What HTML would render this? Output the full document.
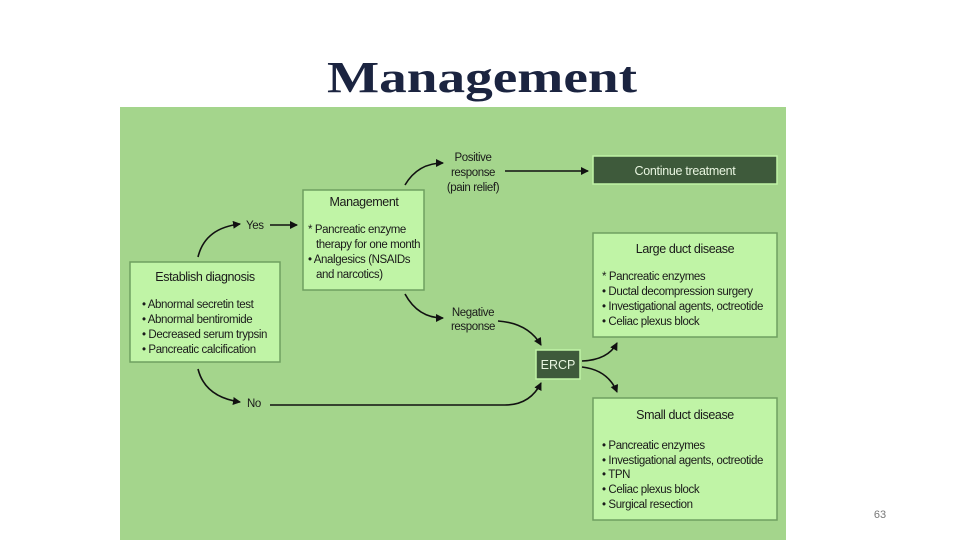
<!DOCTYPE html>
<html><head><meta charset="utf-8"><style>
body{margin:0;background:#fff;width:960px;height:540px;overflow:hidden;font-family:"Liberation Sans",sans-serif}
</style></head><body>
<svg width="960" height="540" xmlns="http://www.w3.org/2000/svg" font-family="Liberation Sans, sans-serif">
<defs><marker id="a" markerWidth="8" markerHeight="8" refX="7" refY="4" orient="auto" markerUnits="userSpaceOnUse"><path d="M0,0 L8,4 L0,8 z" fill="#111"/></marker></defs>
<text x="327" y="92" textLength="310" lengthAdjust="spacingAndGlyphs" font-family="Liberation Serif, serif" font-weight="bold" font-size="44" fill="#1b2440">Management</text>
<rect x="120" y="107" width="666" height="433" fill="#a4d58c"/>
<g stroke="#6fa060" stroke-width="1.5" fill="#c0f4a6">
<rect x="130" y="262" width="150" height="100"/>
<rect x="303" y="190" width="121" height="100"/>
<rect x="593" y="233" width="184" height="104"/>
<rect x="593" y="398" width="184" height="122"/>
</g>
<g fill="#3e5a3b" stroke="#c0f4a6" stroke-width="1.5">
<rect x="593" y="156" width="184" height="28"/>
<rect x="536" y="350" width="44" height="29"/>
</g>
<g font-size="11.5" fill="#1a1a1a" letter-spacing="-0.4">
<text x="205" y="281" text-anchor="middle" font-size="12.5">Establish diagnosis</text>
<text x="142" y="308">•  Abnormal secretin test</text>
<text x="142" y="323">•  Abnormal bentiromide</text>
<text x="142" y="338">•  Decreased serum trypsin</text>
<text x="142" y="353">•  Pancreatic calcification</text>
<text x="364" y="206" text-anchor="middle" font-size="12.5">Management</text>
<text x="308" y="233">*  Pancreatic enzyme</text>
<text x="316" y="248">therapy for one month</text>
<text x="308" y="263">•  Analgesics (NSAIDs</text>
<text x="316" y="278">and narcotics)</text>
<text x="473" y="161" text-anchor="middle">Positive</text>
<text x="473" y="176" text-anchor="middle">response</text>
<text x="473" y="191" text-anchor="middle">(pain relief)</text>
<text x="473" y="316" text-anchor="middle">Negative</text>
<text x="473" y="330" text-anchor="middle">response</text>
<text x="246" y="229">Yes</text>
<text x="247" y="407">No</text>
<text x="685" y="253" text-anchor="middle" font-size="12.5">Large duct disease</text>
<text x="602" y="280">*  Pancreatic enzymes</text>
<text x="602" y="295">•  Ductal decompression surgery</text>
<text x="602" y="310">•  Investigational agents, octreotide</text>
<text x="602" y="325">•  Celiac plexus block</text>
<text x="685" y="419" text-anchor="middle" font-size="12.5">Small duct disease</text>
<text x="602" y="449">•  Pancreatic enzymes</text>
<text x="602" y="464">•  Investigational agents, octreotide</text>
<text x="602" y="478">•  TPN</text>
<text x="602" y="493">•  Celiac plexus block</text>
<text x="602" y="508">•  Surgical resection</text>
</g>
<text x="685" y="175" text-anchor="middle" font-size="12.5" letter-spacing="-0.3" fill="#e8f5e0">Continue treatment</text>
<text x="558" y="369" text-anchor="middle" font-size="12.5" fill="#e8f5e0">ERCP</text>
<g stroke="#111" stroke-width="1.6" fill="none" marker-end="url(#a)">
<path d="M198,257 Q205,228 240,224"/>
<path d="M270,225 L297,225"/>
<path d="M405,185 Q418,163 443,163"/>
<path d="M505,171 L588,171"/>
<path d="M405,294 Q418,318 443,318"/>
<path d="M498,321 Q528,323 541,345"/>
<path d="M198,369 Q205,397 240,402"/>
<path d="M270,405 L505,405 Q530,405 541,383"/>
<path d="M582,361 Q608,360 617,343"/>
<path d="M582,367 Q608,370 617,392"/>
</g>
<text x="880" y="518" text-anchor="middle" font-size="11" fill="#777">63</text>
</svg>
</body></html>
